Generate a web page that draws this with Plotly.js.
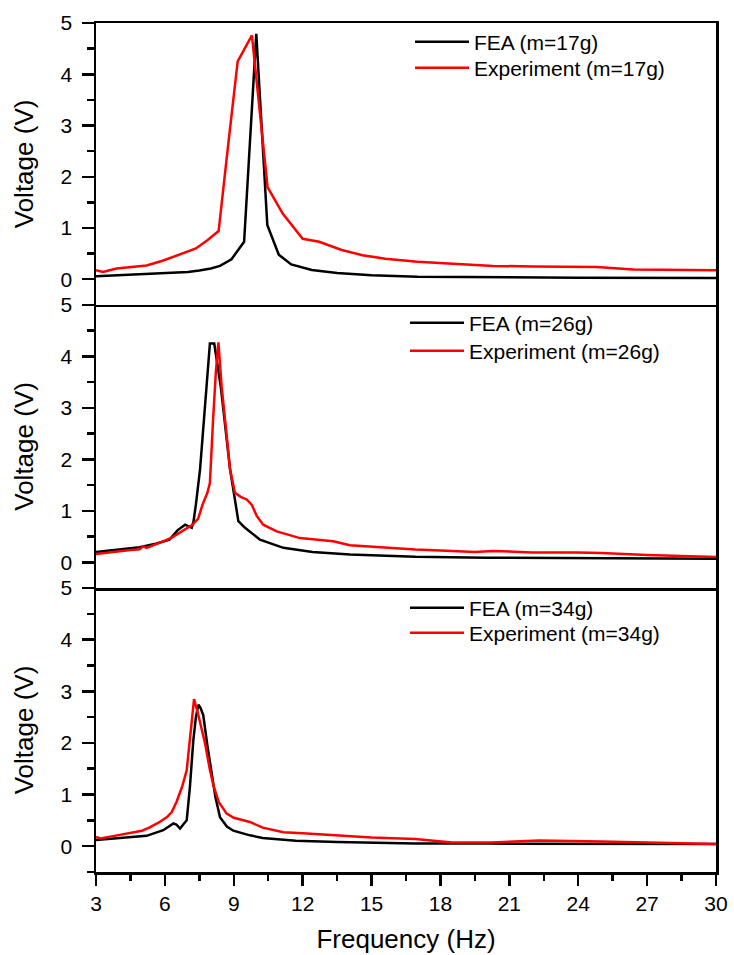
<!DOCTYPE html>
<html>
<head>
<meta charset="utf-8">
<script src="https://cdn.plot.ly/plotly-3.0.1.min.js"></script>
<style>html,body{margin:0;padding:0;background:#fff;}#chart{width:734px;height:955px;}</style>
</head>
<body>
<div id="chart"></div>
<script>
// ---- Panel 1: m = 17 g ----
const fea17_f = [3, 4, 5, 6, 7, 7.5, 8, 8.4, 8.9, 9.45, 9.98, 10.46, 10.96, 11.5, 12.4, 13.5, 15, 17, 20, 24, 30];
const fea17_v = [0.06, 0.08, 0.09, 0.11, 0.14, 0.17, 0.21, 0.26, 0.39, 0.73, 4.79, 1.06, 0.48, 0.29, 0.18, 0.12, 0.08, 0.05, 0.04, 0.03, 0.025];
const exp17_f = [3, 3.3, 3.9, 4.45, 5.2, 5.9, 6.6, 7.35, 7.85, 8.34, 8.75, 9.17, 9.79, 10.47, 11.13, 12.0, 12.72, 13.7, 14.6, 15.6, 17, 18.5, 20.3, 22, 24.8, 26.4, 28, 30];
const exp17_v = [0.175, 0.14, 0.21, 0.23, 0.27, 0.36, 0.47, 0.6, 0.76, 0.94, 2.6, 4.25, 4.76, 1.8, 1.28, 0.79, 0.73, 0.57, 0.47, 0.40, 0.34, 0.3, 0.26, 0.25, 0.24, 0.19, 0.18, 0.175];

// ---- Panel 2: m = 26 g ----
const fea26_f = [3, 4, 4.9, 5.6, 6.2, 6.55, 6.88, 7.17, 7.25, 7.35, 7.53, 7.64, 7.96, 8.15, 8.44, 8.84, 9.2, 9.49, 9.7, 10.14, 11.16, 12.43, 14.06, 16.9, 20, 24, 30];
const fea26_v = [0.2, 0.24, 0.29, 0.36, 0.44, 0.62, 0.73, 0.67, 0.8, 1.12, 1.8, 2.42, 4.25, 4.25, 3.39, 1.8, 0.8, 0.67, 0.6, 0.44, 0.28, 0.2, 0.15, 0.105, 0.09, 0.08, 0.07];
const exp26_f = [3, 3.5, 4, 4.5, 4.9, 5.05, 5.2, 5.5, 5.9, 6.3, 6.63, 6.9, 7.2, 7.45, 7.64, 7.85, 7.96, 8.1, 8.22, 8.33, 8.47, 8.84, 9.05, 9.3, 9.56, 9.78, 10.0, 10.28, 10.87, 11.88, 13.33, 14.06, 15, 16.9, 18, 19.5, 20.3, 21, 22, 24, 25, 27, 30];
const exp26_v = [0.16, 0.19, 0.21, 0.24, 0.25, 0.31, 0.28, 0.33, 0.4, 0.48, 0.57, 0.64, 0.73, 0.85, 1.12, 1.35, 1.54, 2.78, 3.7, 4.27, 3.42, 1.8, 1.35, 1.27, 1.22, 1.12, 0.9, 0.73, 0.6, 0.47, 0.41, 0.33, 0.3, 0.25, 0.23, 0.2, 0.22, 0.21, 0.19, 0.19, 0.18, 0.14, 0.1];

// ---- Panel 3: m = 34 g ----
const fea34_f = [3, 4, 5.2, 5.93, 6.2, 6.37, 6.5, 6.66, 6.8, 6.9, 6.95, 7.09, 7.24, 7.35, 7.46, 7.55, 7.67, 7.85, 8.04, 8.2, 8.4, 8.7, 8.98, 9.7, 10.26, 11.7, 13.5, 16.9, 20, 24, 30];
const fea34_v = [0.12, 0.15, 0.2, 0.31, 0.38, 0.44, 0.42, 0.34, 0.42, 0.47, 0.5, 1.15, 2.06, 2.5, 2.74, 2.68, 2.54, 1.95, 1.41, 0.95, 0.56, 0.38, 0.3, 0.21, 0.16, 0.105, 0.08, 0.05, 0.05, 0.05, 0.04];
const exp34_f = [3, 3.2, 3.8, 4.45, 5.0, 5.32, 5.7, 6.08, 6.3, 6.51, 6.75, 6.95, 7.12, 7.27, 7.45, 7.64, 7.75, 7.95, 8.11, 8.35, 8.69, 9.0, 9.4, 9.7, 10.26, 11.16, 12, 13.33, 15, 16.9, 17.8, 18.5, 20.2, 22.3, 25, 27, 30];
const exp34_v = [0.18, 0.15, 0.2, 0.25, 0.3, 0.36, 0.45, 0.56, 0.66, 0.86, 1.15, 1.47, 2.2, 2.85, 2.55, 2.2, 1.99, 1.5, 1.18, 0.85, 0.63, 0.55, 0.5, 0.47, 0.36, 0.27, 0.25, 0.21, 0.17, 0.14, 0.1, 0.07, 0.07, 0.11, 0.09, 0.07, 0.04];

const feaLabels = ['FEA (m=17g)', 'FEA (m=26g)', 'FEA (m=34g)'];
const expLabels = ['Experiment (m=17g)', 'Experiment (m=26g)', 'Experiment (m=34g)'];

const FONT = 'Liberation Sans, Arial, sans-serif';
const LW = 2.5;

function tr(x, y, name, color, xa, ya, leg) {
  return {x: x, y: y, name: name, type: 'scatter', mode: 'lines',
    line: {color: color, width: LW}, xaxis: xa, yaxis: ya, legend: leg};
}

const data = [
  tr(fea17_f, fea17_v, feaLabels[0], '#000000', 'x3', 'y3', 'legend'),
  tr(exp17_f, exp17_v, expLabels[0], '#ff0000', 'x3', 'y3', 'legend2'),
  tr(fea26_f, fea26_v, feaLabels[1], '#000000', 'x2', 'y2', 'legend3'),
  tr(exp26_f, exp26_v, expLabels[1], '#ff0000', 'x2', 'y2', 'legend4'),
  tr(fea34_f, fea34_v, feaLabels[2], '#000000', 'x', 'y', 'legend5'),
  tr(exp34_f, exp34_v, expLabels[2], '#ff0000', 'x', 'y', 'legend6')
];

function xax(anchor, kind) {
  const a = {anchor: anchor, domain: [0, 1], range: [3, 30], showgrid: false, zeroline: false,
    showline: true, linewidth: LW, linecolor: '#000', mirror: kind === 'top'};
  if (kind === 'bottom') {
    Object.assign(a, {tick0: 0, dtick: 3, ticks: 'outside', ticklen: 11, tickwidth: LW, tickcolor: '#000',
      minor: {dtick: 1.5, ticks: 'outside', ticklen: 6, tickwidth: LW, tickcolor: '#000'},
      tickfont: {family: FONT, size: 21, color: '#000'},
      title: {text: 'Frequency (Hz)', font: {family: FONT, size: 26, color: '#000'}, standoff: 16}});
  } else {
    Object.assign(a, {ticks: '', showticklabels: false, matches: 'x'});
  }
  return a;
}
function yax(anchor, dom) {
  return {anchor: anchor, domain: dom, range: [-0.5, 5.0001], tick0: 0, dtick: 1,
    showgrid: false, zeroline: false, showline: true, linewidth: LW, linecolor: '#000', mirror: true,
    ticks: 'outside', ticklen: 12, tickwidth: LW, tickcolor: '#000', ticklabelstandoff: 5,
    minor: {dtick: 0.5, ticks: 'outside', ticklen: 7, tickwidth: LW, tickcolor: '#000'},
    tickfont: {family: FONT, size: 21, color: '#000'},
    title: {text: 'Voltage (V)', font: {family: FONT, size: 26, color: '#000'}, standoff: 20}};
}
function py2paper(py) { return 1 - (py - 23) / 849; }
function px2paper(px) { return (px - 96) / 620; }
function leg(px, py) {
  return {x: px2paper(px), y: py2paper(py), xanchor: 'left', yanchor: 'middle',
    bgcolor: 'rgba(0,0,0,0)', borderwidth: 0,
    font: {family: FONT, size: 21, color: '#000'}, itemwidth: 54};
}

const layout = {
  width: 734, height: 955,
  margin: {l: 96, r: 18, t: 23, b: 83, pad: 0},
  paper_bgcolor: '#fff', plot_bgcolor: '#fff',
  font: {family: FONT, color: '#000'},
  showlegend: true,
  xaxis: xax('y', 'bottom'),
  xaxis2: xax('y2', 'mid'),
  xaxis3: xax('y3', 'top'),
  yaxis: yax('x', [0, 0.3345]),
  yaxis2: yax('x2', [0.3345, 0.668]),
  yaxis3: yax('x3', [0.668, 1]),
  legend: leg(410, 42),
  legend2: leg(410, 68),
  legend3: leg(405, 323),
  legend4: leg(405, 351),
  legend5: leg(405, 608),
  legend6: leg(405, 633)
};

Plotly.newPlot('chart', data, layout, {displayModeBar: false, staticPlot: true});
</script>
</body>
</html>
